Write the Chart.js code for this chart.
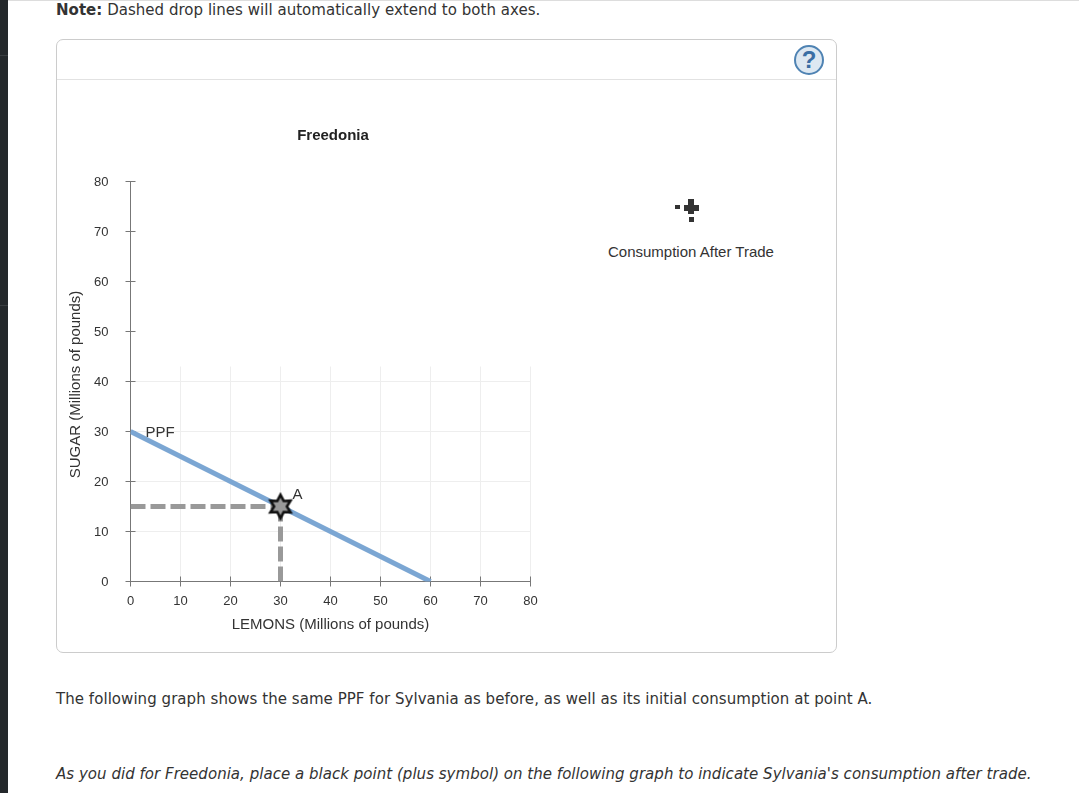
<!DOCTYPE html>
<html>
<head>
<meta charset="utf-8">
<script src="https://cdn.jsdelivr.net/npm/chart.js@4"></script>
<style>
  html, body { margin: 0; padding: 0; background: #fff; overflow: hidden; }
  body { width: 1079px; height: 793px; position: relative; color: #333; font-family: "DejaVu Sans", sans-serif; font-size: 15px; }
  .abs { position: absolute; white-space: nowrap; }
  #sidebar { left: 0; top: 0; width: 8px; height: 793px; background: #24282b; }
  .side-rule { left: 0; width: 8px; height: 1px; background: #3a3e41; }
  #topline { left: 8px; right: 0; top: 0; height: 1px; background: #ddd; }
  #panel { left: 56px; top: 39px; width: 781px; height: 614px; box-sizing: border-box; border: 1px solid #ccc; border-radius: 7px; }
  #divider { left: 57px; top: 79px; width: 779px; height: 1px; background: #e2e2e2; }
  #help { left: 794px; top: 45px; width: 30px; height: 30px; box-sizing: border-box; border: 2px solid #4f83b3; border-radius: 50%; background: #dde8f2; color: #3a6ea5; font: bold 24px/26px "Liberation Sans", sans-serif; text-align: center; }
  #chart-wrap { left: 58px; top: 100px; width: 550px; height: 550px; }
  #legend-label { left: 608px; top: 243px; font: 15px "Liberation Sans", sans-serif; color: #333; }
  .glyph { position: absolute; background: #333; }
</style>
</head>
<body>
<div class="abs" id="sidebar"></div>
<div class="abs side-rule" style="top:55px"></div>
<div class="abs side-rule" style="top:305px"></div>
<div class="abs" id="topline"></div>
<div class="abs" style="left:56px;top:1px;letter-spacing:0.03px"><b>Note:</b> Dashed drop lines will automatically extend to both axes.</div>
<div class="abs" id="panel"></div>
<div class="abs" id="divider"></div>
<div class="abs" id="help">?</div>
<div class="abs" id="chart-wrap"><canvas id="chart" width="550" height="550"></canvas></div>

<!-- legend marker: plus symbol with its two drag dots -->
<div class="glyph" style="left:684px;top:205px;width:15px;height:6px"></div>
<div class="glyph" style="left:688px;top:199px;width:6px;height:15px"></div>
<div class="glyph" style="left:675px;top:205px;width:5px;height:4px"></div>
<div class="glyph" style="left:689px;top:217px;width:5px;height:5px"></div>
<div class="abs" id="legend-label">Consumption After Trade</div>

<div class="abs" style="left:56px;top:690px;letter-spacing:0.05px">The following graph shows the same PPF for Sylvania as before, as well as its initial consumption at point A.</div>
<div class="abs" style="left:56px;top:765px;font-style:italic;letter-spacing:0.03px">As you did for Freedonia, place a black point (plus symbol) on the following graph to indicate Sylvania's consumption after trade.</div>

<script>
const xTicks = [0, 10, 20, 30, 40, 50, 60, 70, 80];
const yTicks = [0, 10, 20, 30, 40, 50, 60, 70, 80];
const ppfX = [0, 60];
const ppfY = [30, 0];
const pointAX = [30];
const pointAY = [15];
const dropHX = [0, 30];
const dropHY = [15, 15];
const dropVX = [30, 30];
const dropVY = [0, 15];
const GRID_TOP = 43; // vertical grid stops here, the y axis carries on to 80

const AXIS = '#777';
const GRID = '#eeeeee';
const PPF_BLUE = '#7ba6d3';
const DROP = '#999999';
const SANS = '"Liberation Sans", sans-serif';

const toXY = (xs, ys) => xs.map((x, i) => ({ x, y: ys[i] }));

// Six pointed star for point A
function starCanvas() {
  const c = document.createElement('canvas');
  c.width = 30;
  c.height = 30;
  const g = c.getContext('2d');
  g.beginPath();
  for (let i = 0; i < 12; i++) {
    const r = i % 2 ? 6.4 : 11.6;
    const a = (i * Math.PI) / 6 - Math.PI / 2;
    g.lineTo(15 + r * Math.cos(a), 15 + r * Math.sin(a));
  }
  g.closePath();
  g.fillStyle = DROP;
  g.fill();
  g.lineWidth = 2.6;
  g.strokeStyle = '#111';
  g.lineJoin = 'miter';
  g.stroke();
  return c;
}

// Grid and axes: ticks cross the axis line, so Chart.js' own grid can't do it
const axesPlugin = {
  id: 'axes',
  beforeDatasetsDraw(chart) {
    const { ctx, scales: { x, y } } = chart;
    const snap = (p) => Math.floor(p) + 0.5;
    const x0 = snap(x.getPixelForValue(0));
    const y0 = snap(y.getPixelForValue(0));
    const xEnd = snap(x.getPixelForValue(80));
    const yEnd = snap(y.getPixelForValue(80));
    const gridTop = snap(y.getPixelForValue(GRID_TOP));
    ctx.save();
    ctx.lineWidth = 1;
    ctx.strokeStyle = GRID;
    ctx.beginPath();
    for (const v of xTicks.slice(1)) {
      const px = snap(x.getPixelForValue(v));
      ctx.moveTo(px, gridTop);
      ctx.lineTo(px, y0);
    }
    for (const v of yTicks.slice(1)) {
      if (v > GRID_TOP) continue;
      const py = snap(y.getPixelForValue(v));
      ctx.moveTo(x0, py);
      ctx.lineTo(xEnd, py);
    }
    ctx.stroke();

    ctx.strokeStyle = AXIS;
    ctx.beginPath();
    ctx.moveTo(x0, yEnd);
    ctx.lineTo(x0, y0);
    ctx.moveTo(x0, y0);
    ctx.lineTo(xEnd, y0);
    for (const v of xTicks) {
      const px = snap(x.getPixelForValue(v));
      ctx.moveTo(px, y0 - 5);
      ctx.lineTo(px, y0 + 5);
    }
    for (const v of yTicks) {
      const py = snap(y.getPixelForValue(v));
      ctx.moveTo(x0 - 5, py);
      ctx.lineTo(x0 + 5, py);
    }
    ctx.stroke();
    ctx.restore();
  },
  afterDatasetsDraw(chart) {
    const { ctx, scales: { x, y } } = chart;
    ctx.save();
    ctx.font = `15px ${SANS}`;
    ctx.fillStyle = '#333';
    ctx.textBaseline = 'middle';
    ctx.fillText('PPF', x.getPixelForValue(ppfX[0]) + 15, y.getPixelForValue(ppfY[0]) + 1.5);
    ctx.fillText('A', x.getPixelForValue(pointAX[0]) + 12, y.getPixelForValue(pointAY[0]) - 12);
    // y title sits a little below the plot centre in the original
    ctx.save();
    ctx.translate(18, 284.5);
    ctx.rotate(-Math.PI / 2);
    ctx.textAlign = 'center';
    ctx.fillText('SUGAR (Millions of pounds)', 0, 0);
    ctx.restore();
    // title sits over the panel centre, not the box Chart.js would centre it in
    ctx.font = `bold 15px ${SANS}`;
    ctx.fillStyle = '#222';
    ctx.textAlign = 'center';
    ctx.fillText('Freedonia', 275, 35.5);
    ctx.restore();
  },
};

const tickFont = { family: SANS, size: 13 };
const titleFont = { family: SANS, size: 15 };

new Chart(document.getElementById('chart'), {
  type: 'scatter',
  data: {
    datasets: [
      {
        label: 'Point A',
        data: toXY(pointAX, pointAY),
        pointStyle: starCanvas(),
        pointRadius: 13,
        showLine: false,
      },
      {
        label: 'Drop H',
        data: toXY(dropHX, dropHY),
        showLine: true,
        borderColor: DROP,
        borderWidth: 5,
        borderDash: [15, 5],
        pointRadius: 0,
      },
      {
        label: 'Drop V',
        data: toXY(dropVX, dropVY),
        showLine: true,
        borderColor: DROP,
        borderWidth: 5,
        borderDash: [15, 5],
        pointRadius: 0,
      },
      {
        label: 'PPF',
        data: toXY(ppfX, ppfY),
        showLine: true,
        borderColor: PPF_BLUE,
        borderWidth: 5,
        pointRadius: 0,
      },
    ],
  },
  plugins: [axesPlugin],
  options: {
    responsive: false,
    animation: false,
    layout: { padding: { top: 81.5, right: 77.5, left: 0, bottom: 16 } },
    plugins: {
      legend: { display: false },
      tooltip: { enabled: false },
    },
    scales: {
      x: {
        type: 'linear',
        min: 0,
        max: 80,
        afterBuildTicks: (s) => { s.ticks = xTicks.map((value) => ({ value })); },
        afterFit: (s) => { s.height = 52.5; },
        grid: { display: false },
        border: { display: false },
        ticks: { font: tickFont, color: '#333', padding: 4, maxRotation: 0 },
        title: { display: true, text: 'LEMONS (Millions of pounds)', font: titleFont, color: '#333', padding: { top: 0, bottom: 0 } },
      },
      y: {
        type: 'linear',
        min: 0,
        max: 80,
        afterBuildTicks: (s) => { s.ticks = yTicks.map((value) => ({ value })); },
        afterFit: (s) => { s.width = 72.5; },
        grid: { display: false },
        border: { display: false },
        ticks: { font: tickFont, color: '#333', padding: 14, labelOffset: 1 },
      },
    },
  },
});
</script>
</body>
</html>
